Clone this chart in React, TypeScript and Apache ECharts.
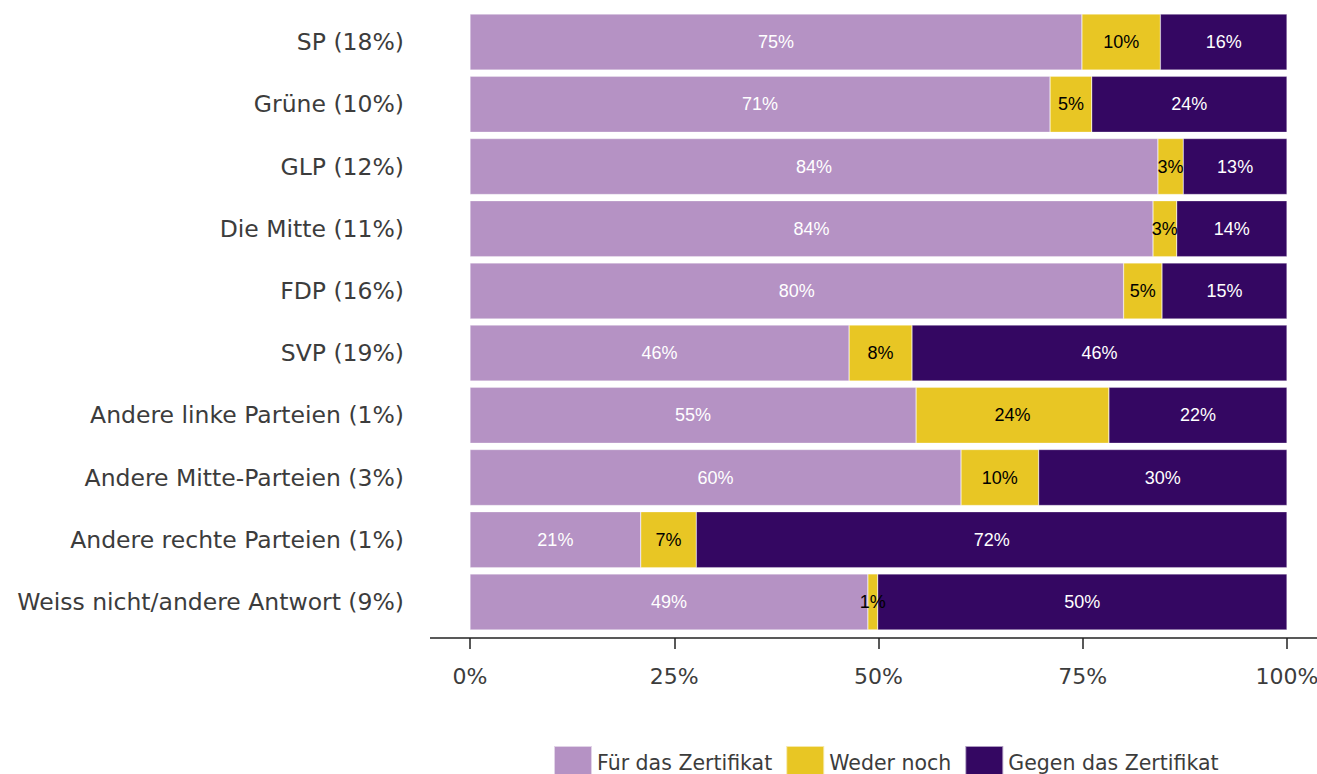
import React, { useEffect, useRef } from "react";
import * as echarts from "echarts";

const categories = [
  "SP (18%)",
  "Grüne (10%)",
  "GLP (12%)",
  "Die Mitte (11%)",
  "FDP (16%)",
  "SVP (19%)",
  "Andere linke Parteien (1%)",
  "Andere Mitte-Parteien (3%)",
  "Andere rechte Parteien (1%)",
  "Weiss nicht/andere Antwort (9%)",
];

const fuer = [74.9, 71.0, 84.2, 83.6, 80.0, 46.4, 54.6, 60.1, 20.9, 48.7];
const weder = [9.6, 5.1, 3.1, 2.9, 4.7, 7.7, 23.6, 9.5, 6.8, 1.2];
const gegen = [15.5, 23.9, 12.7, 13.5, 15.3, 45.9, 21.8, 30.4, 72.3, 50.1];

const seriesNames = ["Für das Zertifikat", "Weder noch", "Gegen das Zertifikat"];
const colors = ["#b592c4", "#e8c624", "#340762"];
const labelColors = ["#ffffff", "#000000", "#ffffff"];
const xTicks = [0, 25, 50, 75, 100];

const FONT = "'DejaVu Sans', sans-serif";

export default function App() {
  const ref = useRef<HTMLDivElement>(null);
  useEffect(() => {
    if (!ref.current) return;
    const chart = echarts.init(ref.current, undefined, { renderer: "svg" });
    const data = [fuer, weder, gegen];
    chart.setOption({
      animation: false,
      grid: {
        left: 470,
        right: 30,
        top: 11,
        height: 622,
        containLabel: false,
        outerBoundsMode: "none",
      },
      xAxis: {
        type: "value",
        min: xTicks[0],
        max: xTicks[xTicks.length - 1],
        interval: 25,
        offset: 5,
        axisLine: { show: false },
        axisTick: { show: true, length: 11, lineStyle: { color: "#222", width: 1.5 } },
        splitLine: { show: false },
        axisLabel: {
          formatter: (v: number) => v + "%",
          fontSize: 22,
          color: "#3c3c3c",
          fontFamily: FONT,
          margin: 27,
        },
      },
      yAxis: {
        type: "category",
        data: categories,
        inverse: true,
        axisLine: { show: false },
        axisTick: { show: false },
        axisLabel: {
          fontSize: 23.5,
          color: "#3c3c3c",
          fontFamily: FONT,
          margin: 66,
        },
      },
      legend: {
        data: seriesNames,
        top: 740,
        left: 548,
        itemWidth: 38,
        itemHeight: 34,
        itemGap: 13,
        icon: "rect",
        textStyle: { fontSize: 20.5, color: "#3c3c3c", fontFamily: FONT },
      },
      graphic: [
        {
          type: "line",
          shape: { x1: 430, y1: 638, x2: 1317, y2: 638 },
          style: { stroke: "#222", lineWidth: 1.5 },
        },
      ],
      series: seriesNames.map((name, i) => ({
        name,
        type: "bar",
        stack: "total",
        barWidth: "90%",
        data: data[i],
        itemStyle: { color: colors[i], borderColor: "rgba(255,255,255,0.6)", borderWidth: 0.5 },
        label: {
          show: true,
          position: "inside",
          formatter: (p: any) => Math.round(p.value) + "%",
          color: labelColors[i],
          fontSize: 18,
          fontFamily: "'Liberation Sans', Arial, sans-serif",
        },
      })),
    });
    return () => chart.dispose();
  }, []);
  return <div ref={ref} style={{ width: 1317, height: 774, position: "absolute", left: 0, top: 0 }} />;
}
